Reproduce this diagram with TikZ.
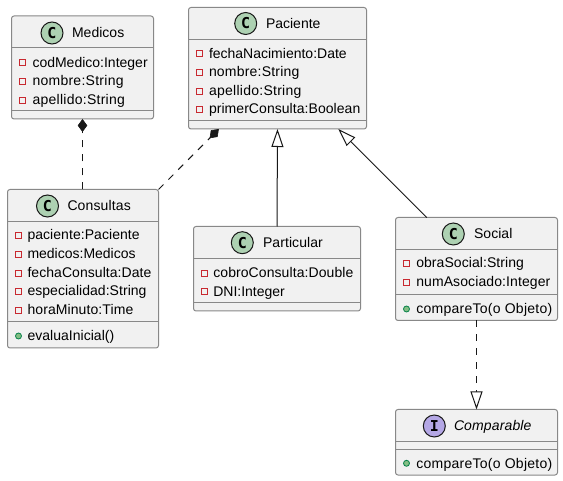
\documentclass[tikz,border=0pt]{standalone}
\usepackage{fontspec}
\setmainfont{Liberation Sans}
\newfontfamily\iconfont{DejaVu Sans Mono}
\usetikzlibrary{arrows.meta}
\definecolor{boxfill}{HTML}{F1F1F1}
\definecolor{boxline}{HTML}{888888}
\definecolor{inkline}{HTML}{181818}
\definecolor{iconc}{HTML}{ADD1B2}
\definecolor{iconi}{HTML}{B4A7E5}
\definecolor{privred}{HTML}{C82930}
\definecolor{pubfill}{HTML}{84BE84}
\definecolor{publine}{HTML}{038048}
\tikzset{
  classbox/.style={draw=boxline,fill=boxfill,line width=1pt,rounded corners=2.5pt,inner sep=0pt,outer sep=0pt},
  sepline/.style={draw=boxline,line width=1pt},
  txt/.style={inner sep=0pt,outer sep=0pt,anchor=base west,font=\fontsize{14}{14}\selectfont,text=black},
  ls/.style={execute at begin node={\addfontfeature{LetterSpace=#1}}},
  badge/.style={circle,draw=inkline,line width=1pt,minimum size=22pt,inner sep=0pt,font=\iconfont\bfseries\fontsize{15}{15}\selectfont},
  priv/.style={draw=privred,line width=1pt,minimum size=6pt,inner sep=0pt,outer sep=0pt},
  pub/.style={circle,draw=publine,fill=pubfill,line width=.8pt,minimum size=6pt,inner sep=0pt},
  conn/.style={draw=inkline,line width=1pt},
  dashline/.style={conn,dash pattern=on 7pt off 7pt},
  hollow/.style={-{Triangle[open,fill=white,length=18pt,width=12pt,line width=1pt]}},
  compo/.style={-{Diamond[fill=inkline,length=13pt,width=9.5pt,line width=.6pt]}},
}
\begin{document}
\begin{tikzpicture}[x=1pt,y=-1pt]
\useasboundingbox[fill=white] (0,0) rectangle (563,481);
% class boxes
\node[classbox,minimum width=142pt,minimum height=103pt] (medicos) at (82.5,67.5) {};
\node[classbox,minimum width=178pt,minimum height=121.5pt] (paciente) at (277.5,68.25) {};
\node[classbox,minimum width=151pt,minimum height=158.5pt] (consultas) at (83,268.75) {};
\node[classbox,minimum width=167pt,minimum height=84.5pt] (particular) at (277,268.75) {};
\node[classbox,minimum width=162pt,minimum height=103pt] (social) at (476.5,269) {};
\node[classbox,minimum width=162pt,minimum height=65.5pt] (comparable) at (476.5,442.25) {};
% compartment lines
\draw[sepline] (medicos.west |- 0,48) -- (medicos.east |- 0,48);
\draw[sepline] (medicos.west |- 0,111) -- (medicos.east |- 0,111);
\draw[sepline] (paciente.west |- 0,39.5) -- (paciente.east |- 0,39.5);
\draw[sepline] (paciente.west |- 0,121) -- (paciente.east |- 0,121);
\draw[sepline] (consultas.west |- 0,221.5) -- (consultas.east |- 0,221.5);
\draw[sepline] (consultas.west |- 0,322) -- (consultas.east |- 0,322);
\draw[sepline] (particular.west |- 0,258.5) -- (particular.east |- 0,258.5);
\draw[sepline] (particular.west |- 0,303) -- (particular.east |- 0,303);
\draw[sepline] (social.west |- 0,249.5) -- (social.east |- 0,249.5);
\draw[sepline] (social.west |- 0,294.5) -- (social.east |- 0,294.5);
\draw[sepline] (comparable.west |- 0,441.5) -- (comparable.east |- 0,441.5);
\draw[sepline] (comparable.west |- 0,449.5) -- (comparable.east |- 0,449.5);
% Medicos
\node[badge,fill=iconc] (bm) at (52,33) {C};
\node[txt,ls=0.2] (tm) at (72,38) {Medicos};
\node[priv] (m1) at (22.5,62.5) {}; \node[txt,ls=0] (am1) at (32.5,67.5) {codMedico:Integer};
\node[priv] (m2) at (22.5,81.5) {}; \node[txt,ls=1.9] (am2) at (32.5,86) {nombre:String};
\node[priv] (m3) at (22.5,100.5) {}; \node[txt,ls=1.9] (am3) at (32.5,104.5) {apellido:String};
% Paciente
\node[badge,fill=iconc] (bp) at (245.7,23.5) {C};
\node[txt,ls=0] (tp) at (266,29) {Paciente};
\node[priv] (p1) at (199.5,53.5) {}; \node[txt,ls=0] (ap1) at (209,58.5) {fechaNacimiento:Date};
\node[priv] (p2) at (199.5,72.5) {}; \node[txt,ls=1.5] (ap2) at (209,77) {nombre:String};
\node[priv] (p3) at (199.5,91.5) {}; \node[txt,ls=1.9] (ap3) at (209,95.5) {apellido:String};
\node[priv] (p4) at (199.5,109.5) {}; \node[txt,ls=0.4] (ap4) at (209,114) {primerConsulta:Boolean};
% Consultas
\node[badge,fill=iconc] (bc) at (47.5,206) {C};
\node[txt,ls=1] (tc) at (67.5,211) {Consultas};
\node[priv] (c1) at (18.5,235.5) {}; \node[txt,ls=0.4] (ac1) at (27.5,240) {paciente:Paciente};
\node[priv] (c2) at (18.5,254.5) {}; \node[txt,ls=0] (ac2) at (27.5,259) {medicos:Medicos};
\node[priv] (c3) at (18.5,273.5) {}; \node[txt,ls=0.4] (ac3) at (27.5,277.5) {fechaConsulta:Date};
\node[priv] (c4) at (18.5,291.5) {}; \node[txt,ls=0.3] (ac4) at (27.5,296) {especialidad:String};
\node[priv] (c5) at (18.5,310.5) {}; \node[txt,ls=0.7] (ac5) at (27.5,315) {horaMinuto:Time};
\node[pub] (c6) at (18.5,336) {}; \node[txt,ls=0.2] (ac6) at (27.5,341) {evaluaInicial()};
% Particular
\node[badge,fill=iconc] (bq) at (242.3,242.7) {C};
\node[txt,ls=0.6] (tq) at (263,248) {Particular};
\node[priv] (q1) at (204.5,273.5) {}; \node[txt,ls=0.6] (aq1) at (213.3,278) {cobroConsulta:Double};
\node[priv] (q2) at (204.5,291.5) {}; \node[txt,ls=0] (aq2) at (213.3,296.5) {DNI:Integer};
% Social
\node[badge,fill=iconc] (bs) at (453.3,234) {C};
\node[txt,ls=0.5] (ts) at (474,239) {Social};
\node[priv] (s1) at (406.5,263.5) {}; \node[txt,ls=0.5] (as1) at (416.3,268) {obraSocial:String};
\node[priv] (s2) at (406.5,282.5) {}; \node[txt,ls=0.7] (as2) at (416.3,287) {numAsociado:Integer};
\node[pub] (s3) at (406.5,309) {}; \node[txt,ls=1.9] (as3) at (416.3,313.5) {compareTo(o Objeto)};
% Comparable
\node[badge,fill=iconi] (bi) at (434.3,426) {I};
\node[txt,ls=1,font=\fontsize{14}{14}\selectfont\itshape] (ti) at (454,431) {Comparable};
\node[pub] (i1) at (406.5,463.3) {}; \node[txt,ls=1.9] (ai1) at (416.3,468) {compareTo(o Objeto)};
% connectors
\draw[dashline,compo] (consultas.north -| medicos.south) -- (medicos.south);
\draw[dashline,compo] (consultas.north east) -- (paciente.226);
\draw[conn,hollow] (particular.north) -- (paciente.south);
\draw[conn,hollow] (social.134.4) -- (paciente.-45.5);
\draw[dashline,hollow] (social.south) -- (comparable.north);
\end{tikzpicture}
\end{document}
